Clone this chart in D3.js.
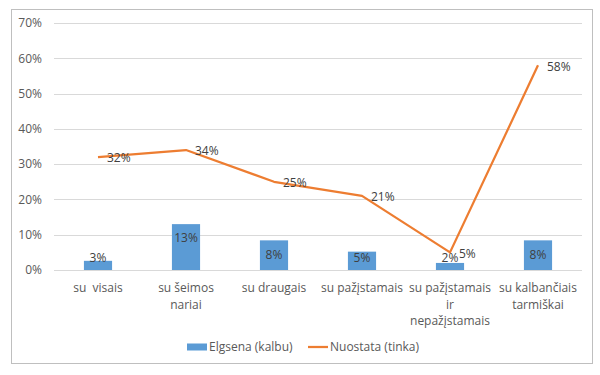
<!DOCTYPE html>
<html>
<head>
    <script src="https://d3js.org/d3.v7.min.js"></script>
    <style>
        body { margin: 0; background: #fff; }
        text { font-family: "Open Sans", sans-serif; }
    </style>
</head>
<body>

<script>
const categories = [
    ['su  visais'],
    ['su šeimos', 'nariai'],
    ['su draugais'],
    ['su pažįstamais'],
    ['su pažįstamais', 'ir', 'nepažįstamais'],
    ['su kalbančiais', 'tarmiškai']
];
const behaviour = [2.6, 13, 8.4, 5.2, 2.0, 8.4];   // Elgsena (kalbu)
const attitude = [32, 34, 25, 21, 5, 58];          // Nuostata (tinka)
const yTicks = [0, 10, 20, 30, 40, 50, 60, 70];
const seriesNames = ['Elgsena (kalbu)', 'Nuostata (tinka)'];

const width = 600, height = 375;
const margin = { top: 23, right: 18, bottom: 105, left: 54 };
const innerW = width - margin.left - margin.right;
const innerH = height - margin.top - margin.bottom;

const svg = d3.select('body')
    .append('svg')
    .attr('width', width)
    .attr('height', height);

// outer chart border
svg.append('rect')
    .attr('x', 11.5).attr('y', 9.5)
    .attr('width', 581).attr('height', 354)
    .attr('fill', 'none')
    .attr('stroke', '#bfbfbf');

const g = svg.append('g')
    .attr('transform', `translate(${margin.left},${margin.top})`);

const idx = categories.map((d, i) => i);

const xScale = d3.scaleBand()
    .domain(idx)
    .range([0, innerW])
    .paddingInner(0.68)
    .paddingOuter(0.34);

const yScale = d3.scaleLinear()
    .domain([0, 70])
    .range([innerH, 0]);

// gridlines
g.selectAll('line.grid')
    .data(yTicks)
    .enter()
    .append('line')
    .attr('class', 'grid')
    .attr('x1', 0).attr('x2', innerW)
    .attr('y1', d => Math.round(yScale(d)) + 0.5)
    .attr('y2', d => Math.round(yScale(d)) + 0.5)
    .attr('stroke', '#d9d9d9');

// y axis labels
const yAxis = d3.axisLeft(yScale)
    .tickValues(yTicks)
    .tickFormat(d => d + '%')
    .tickSize(0)
    .tickPadding(12);
g.append('g')
    .call(yAxis)
    .call(s => s.select('.domain').remove())
    .selectAll('text')
    .attr('font-size', 12)
    .attr('fill', '#595959');

// bars
g.selectAll('rect.bar')
    .data(behaviour)
    .enter()
    .append('rect')
    .attr('class', 'bar')
    .attr('x', (d, i) => xScale(i))
    .attr('y', d => yScale(d))
    .attr('width', xScale.bandwidth())
    .attr('height', d => innerH - yScale(d))
    .attr('fill', '#5b9bd5');

const pct = v => d3.format('.0f')(v) + '%';

// bar labels (inside end)
g.selectAll('text.bar-label')
    .data(behaviour)
    .enter()
    .append('text')
    .attr('class', 'bar-label')
    .attr('x', (d, i) => xScale(i) + xScale.bandwidth() / 2)
    .attr('y', d => Math.min(yScale(d) + 14, innerH - 12))
    .attr('dy', '0.35em')
    .attr('text-anchor', 'middle')
    .attr('font-size', 12)
    .attr('fill', '#404040')
    .text(d => pct(d));

// line
const cx = i => xScale(i) + xScale.bandwidth() / 2;
const line = d3.line()
    .x((d, i) => cx(i))
    .y(d => yScale(d));

g.append('path')
    .datum(attitude)
    .attr('d', line)
    .attr('fill', 'none')
    .attr('stroke', '#ed7d31')
    .attr('stroke-width', 2.25)
    .attr('stroke-linejoin', 'round');

// line labels (right)
g.selectAll('text.line-label')
    .data(attitude)
    .enter()
    .append('text')
    .attr('class', 'line-label')
    .attr('x', (d, i) => cx(i) + 9)
    .attr('y', d => yScale(d) + 1)
    .attr('dy', '0.35em')
    .attr('font-size', 12)
    .attr('fill', '#404040')
    .text(d => pct(d));

// category labels
const xLab = g.selectAll('text.cat')
    .data(categories)
    .enter()
    .append('text')
    .attr('class', 'cat')
    .attr('x', (d, i) => cx(i))
    .attr('y', innerH + 22)
    .attr('text-anchor', 'middle')
    .attr('font-size', 12)
    .attr('fill', '#595959')
    .attr('xml:space', 'preserve')
    .style('white-space', 'pre');

xLab.selectAll('tspan')
    .data(d => d)
    .enter()
    .append('tspan')
    .attr('x', function () { return d3.select(this.parentNode).attr('x'); })
    .attr('dy', (d, i) => i === 0 ? 0 : 16.7)
    .text(d => d);

// legend
const legend = svg.append('g')
    .attr('transform', 'translate(0,347)');

legend.append('rect')
    .attr('x', 187).attr('y', -3.5)
    .attr('width', 20).attr('height', 7)
    .attr('fill', '#5b9bd5');
legend.append('text')
    .attr('x', 209).attr('y', 0)
    .attr('dy', '0.35em')
    .attr('font-size', 12)
    .attr('fill', '#595959')
    .text(seriesNames[0]);

legend.append('line')
    .attr('x1', 308).attr('x2', 328)
    .attr('y1', 0).attr('y2', 0)
    .attr('stroke', '#ed7d31')
    .attr('stroke-width', 2.25);
legend.append('text')
    .attr('x', 330).attr('y', 0)
    .attr('dy', '0.35em')
    .attr('font-size', 12)
    .attr('fill', '#595959')
    .text(seriesNames[1]);
</script>

</body>
</html>
